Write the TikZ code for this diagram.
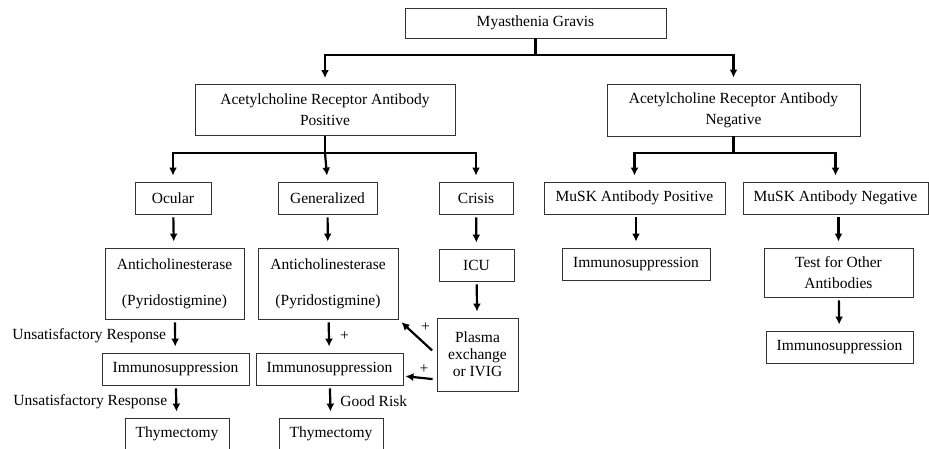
\documentclass[tikz,border=0pt]{standalone}
\usepackage{fontspec}
\setmainfont{Liberation Serif}
\usetikzlibrary{arrows.meta}

\begin{document}
\begin{tikzpicture}[x=1pt, y=-1pt,
    box/.style={draw=black!80, line width=0.9pt, align=center, inner sep=0pt,
                font=\fontsize{15.5}{21}\selectfont},
    arr/.style={line width=2.2pt, -{Latex[length=8pt,width=8pt]}, shorten >=6pt},
    lbl/.style={font=\fontsize{15.5}{18}\selectfont, inner sep=0pt}]
            \clip (0,0) rectangle (929,448);
            \fill[white] (0,0) rectangle (929,448);

            % Cajas
            \node[box, minimum width=261pt, minimum height=30pt] (mg) at (535.5,23) {Myasthenia Gravis};
            \node[box, minimum width=260pt, minimum height=51pt] (pos) at (325,110) {Acetylcholine Receptor Antibody\\Positive};
            \node[box, minimum width=253pt, minimum height=52pt] (neg) at (733.5,110) {Acetylcholine Receptor Antibody\\Negative};

            \node[box, minimum width=76pt, minimum height=32pt] (ocular) at (173,198) {Ocular};
            \node[box, minimum width=99pt, minimum height=32pt] (gen) at (327.5,198) {Generalized};
            \node[box, minimum width=74pt, minimum height=32pt] (crisis) at (476,198) {Crisis};
            \node[box, minimum width=181pt, minimum height=32pt] (muskp) at (634.5,198) {MuSK Antibody Positive};
            \node[box, minimum width=185pt, minimum height=32pt] (muskn) at (835.5,198) {MuSK Antibody Negative};

            \node[box, minimum width=139pt, minimum height=71pt] (anti1) at (174.5,283.5) {Anticholinesterase\\[15pt](Pyridostigmine)};
            \node[box, minimum width=140pt, minimum height=71pt] (anti2) at (328,283.5) {Anticholinesterase\\[15pt](Pyridostigmine)};
            \node[box, minimum width=75pt, minimum height=32pt] (icu) at (476.5,265) {ICU};
            \node[box, minimum width=81pt, minimum height=73pt, font=\fontsize{15.5}{17}\selectfont] (plasma) at (477.5,354.5) {Plasma\\exchange\\or IVIG};
            \node[box, minimum width=148pt, minimum height=32pt] (imm3) at (636,264) {Immunosuppression};
            \node[box, minimum width=149pt, minimum height=49pt] (test) at (838.5,272.5) {Test for Other\\Antibodies};
            \node[box, minimum width=147pt, minimum height=32pt] (imm4) at (839.5,347) {Immunosuppression};

            \node[box, minimum width=147pt, minimum height=32pt] (imm1) at (175.5,369) {Immunosuppression};
            \node[box, minimum width=147pt, minimum height=32pt] (imm2) at (329.5,369) {Immunosuppression};
            \node[box, minimum width=104pt, minimum height=32pt] (thy1) at (177,434) {Thymectomy};
            \node[box, minimum width=104pt, minimum height=32pt] (thy2) at (331,434) {Thymectomy};

            % Ramas principales
            \coordinate (j1) at (mg.south |- 0,55);
            \draw[arr] (mg.south) -- (j1) -| (pos.north);
            \draw[arr] (j1) -| (neg.north);

            \coordinate (j2) at (pos.south |- 0,153);
            \draw[arr] (pos.south) -- (j2) -| (ocular.north);
            \draw[arr] (j2) -- (gen.north);
            \draw[arr] (j2) -| (crisis.north);

            \coordinate (j3) at (neg.south |- 0,153);
            \draw[arr] (neg.south) -- (j3) -| (muskp.north);
            \draw[arr] (j3) -| (muskn.north);

            % Flechas verticales
            \draw[arr, shorten <=3pt] (ocular) -- (anti1);
            \draw[arr, shorten <=3pt] (gen) -- (anti2);
            \draw[arr, shorten <=3pt] (crisis) -- (icu);
            \draw[arr, shorten <=3pt] (icu) -- (plasma);
            \draw[arr, shorten <=3pt] (muskp.south -| imm3) -- (imm3);
            \draw[arr, shorten <=3pt] (muskn.south -| test) -- (test);
            \draw[arr, shorten <=3pt] (test) -- (imm4);

            \draw[arr, shorten <=3pt] (anti1) -- (imm1) node[lbl, midway, left=8pt] {Unsatisfactory Response};
            \draw[arr, shorten <=3pt] (imm1) -- (thy1) node[lbl, midway, left=8pt] {Unsatisfactory Response};
            \draw[arr, shorten <=3pt] (anti2) -- (imm2) node[lbl, midway, right=10pt] {+};
            \draw[arr, shorten <=3pt] (imm2) -- (thy2) node[lbl, midway, right=9pt] {Good Risk};

            % Flechas diagonales
            \draw[arr, shorten <=6pt, shorten >=4pt] (plasma.west) -- (anti2.south east) node[lbl, midway, xshift=8pt, yshift=10pt] {+};
            \draw[arr, shorten <=4pt, shorten >=2pt] ([yshift=-25pt]plasma.west) -- ([yshift=-7pt]imm2.east) node[lbl, midway, xshift=4pt, yshift=9pt] {+};
        \end{tikzpicture}
\end{document}
